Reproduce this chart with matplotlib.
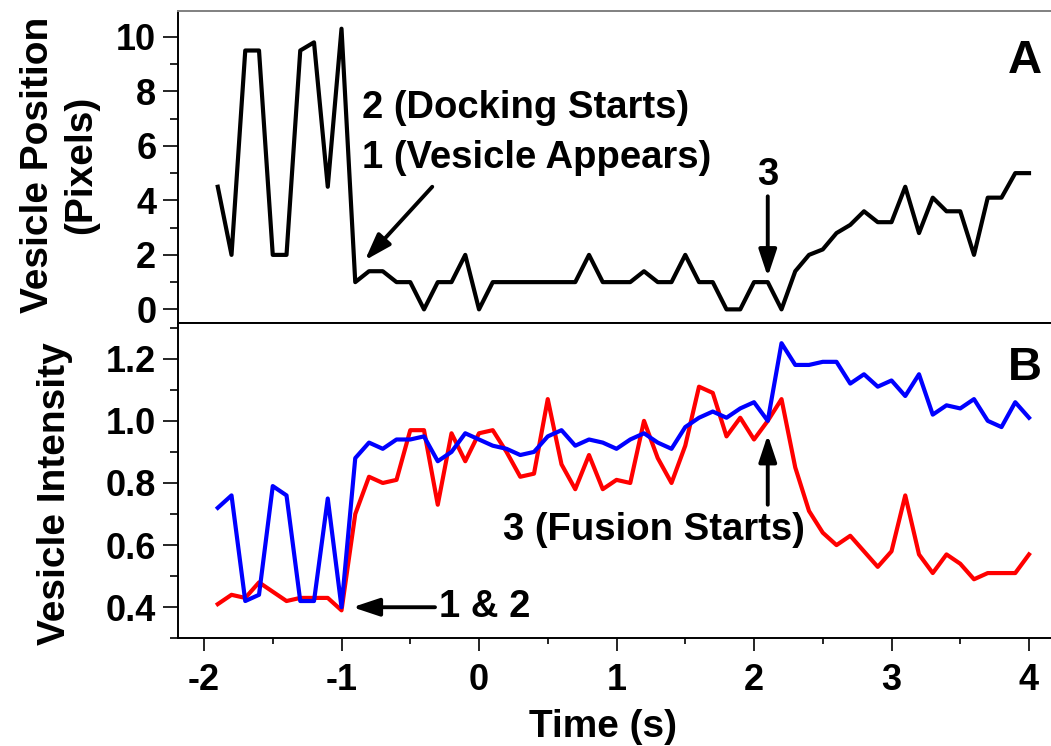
import numpy as np
import matplotlib
matplotlib.use("Agg")
import matplotlib.pyplot as plt
from matplotlib.ticker import MultipleLocator

plt.rcParams['font.family'] = ['Liberation Sans', 'DejaVu Sans']
plt.rcParams['font.weight'] = 'bold'
plt.rcParams['axes.unicode_minus'] = False

#%% data, time step 0.1 s
time = np.round(np.arange(-1.9, 4.0001, 0.1), 1)

position = [4.5, 2.0, 9.5, 9.5, 2.0, 2.0, 9.5, 9.8, 4.5, 10.3,
            1.0, 1.4, 1.4, 1.0, 1.0, 0.0, 1.0, 1.0, 2.0, 0.0,
            1.0, 1.0, 1.0, 1.0, 1.0, 1.0, 1.0, 2.0, 1.0, 1.0,
            1.0, 1.4, 1.0, 1.0, 2.0, 1.0, 1.0, 0.0, 0.0, 1.0,
            1.0, 0.0, 1.4, 2.0, 2.2, 2.8, 3.1, 3.6, 3.2, 3.2,
            4.5, 2.8, 4.1, 3.6, 3.6, 2.0, 4.1, 4.1, 5.0, 5.0]

intensity_red = [0.41, 0.44, 0.43, 0.48, 0.45, 0.42, 0.43, 0.43, 0.43, 0.39,
                 0.70, 0.82, 0.80, 0.81, 0.97, 0.97, 0.73, 0.96, 0.87, 0.96,
                 0.97, 0.90, 0.82, 0.83, 1.07, 0.86, 0.78, 0.89, 0.78, 0.81,
                 0.80, 1.00, 0.88, 0.80, 0.92, 1.11, 1.09, 0.95, 1.01, 0.94,
                 1.00, 1.07, 0.85, 0.71, 0.64, 0.60, 0.63, 0.58, 0.53, 0.58,
                 0.76, 0.57, 0.51, 0.57, 0.54, 0.49, 0.51, 0.51, 0.51, 0.57]

intensity_blue = [0.72, 0.76, 0.42, 0.44, 0.79, 0.76, 0.42, 0.42, 0.75, 0.40,
                  0.88, 0.93, 0.91, 0.94, 0.94, 0.95, 0.87, 0.90, 0.96, 0.94,
                  0.92, 0.91, 0.89, 0.90, 0.95, 0.97, 0.92, 0.94, 0.93, 0.91,
                  0.94, 0.96, 0.93, 0.91, 0.98, 1.01, 1.03, 1.01, 1.04, 1.06,
                  1.00, 1.25, 1.18, 1.18, 1.19, 1.19, 1.12, 1.15, 1.11, 1.13,
                  1.08, 1.15, 1.02, 1.05, 1.04, 1.07, 1.00, 0.98, 1.06, 1.01]

#%% figure and axes (pixel based layout)
W, H = 1051, 746
fig = plt.figure(figsize=(W / 100, H / 100), dpi=100)
left, right = 178.3 / W, 1056.5 / W
axA = fig.add_axes([left, 1 - 323 / H, right - left, (323 - 11) / H])
axB = fig.add_axes([left, 1 - 638.3 / H, right - left, (638.3 - 323) / H])

for ax in (axA, axB):
    ax.set_xlim(-2.187, 4.2)
    for s in ax.spines.values():
        s.set_linewidth(1.4)
    ax.tick_params(width=1.2, labelsize=26, direction='out')

axA.spines['top'].set_color('0.5')
axA.spines['right'].set_visible(False)
axB.spines['right'].set_visible(False)

arrow = dict(arrowstyle='-|>,head_length=0.9,head_width=0.3', color='black',
             lw=2.8, mutation_scale=18, shrinkA=0, shrinkB=0)
annot_size = 27.5

#%% panel A
axA.plot(time, position, color='black', lw=3.0)
axA.set_ylim(-0.5, 10.95)
axA.yaxis.set_major_locator(MultipleLocator(2))
axA.yaxis.set_minor_locator(MultipleLocator(1))
axA.xaxis.set_major_locator(MultipleLocator(0.5))
axA.tick_params(axis='x', length=9.5, labelbottom=False)
axA.tick_params(axis='y', which='major', length=10.8, pad=5)
axA.tick_params(axis='y', which='minor', length=5.8, width=1.2)
for lab in axA.get_yticklabels():
    lab.set_fontweight('bold')

axA.text(-0.85, 7.39, '2 (Docking Starts)', fontsize=annot_size, fontweight='bold',
         ha='left', va='center')
axA.text(-0.85, 5.55, '1 (Vesicle Appears)', fontsize=annot_size, fontweight='bold',
         ha='left', va='center')
axA.annotate('', xy=(-0.83, 1.8), xytext=(-0.34, 4.5), arrowprops=arrow)
axA.text(2.1, 4.93, '3', fontsize=annot_size, fontweight='bold', ha='center', va='center')
axA.annotate('', xy=(2.1, 1.2), xytext=(2.1, 4.15), arrowprops=arrow)
axA.text(3.97, 9.1, 'A', fontsize=34, fontweight='bold', ha='center', va='center')

#%% panel B
axB.plot(time, intensity_red, color='red', lw=3.0)
axB.plot(time, intensity_blue, color='blue', lw=3.0)
axB.set_ylim(0.3, 1.315)
axB.yaxis.set_major_locator(MultipleLocator(0.2))
axB.yaxis.set_minor_locator(MultipleLocator(0.1))
axB.xaxis.set_major_locator(MultipleLocator(1))
axB.xaxis.set_minor_locator(MultipleLocator(0.5))
axB.yaxis.set_major_formatter(matplotlib.ticker.FormatStrFormatter('%.1f'))
axB.tick_params(axis='y', which='major', length=10.8, pad=5)
axB.tick_params(axis='y', which='minor', length=5.8, width=1.2)
axB.tick_params(axis='x', which='major', length=9.5, pad=8)
axB.tick_params(axis='x', which='minor', length=4.5, width=1.2)
for lab in axB.get_yticklabels() + axB.get_xticklabels():
    lab.set_fontweight('bold')

axB.text(1.27, 0.65, '3 (Fusion Starts)', fontsize=annot_size, fontweight='bold',
         ha='center', va='center')
axB.annotate('', xy=(2.1, 0.955), xytext=(2.1, 0.73), arrowprops=arrow)
axB.text(-0.29, 0.4, '1 & 2', fontsize=annot_size, fontweight='bold',
         ha='left', va='center')
axB.annotate('', xy=(-0.92, 0.4), xytext=(-0.32, 0.4), arrowprops=arrow)
axB.text(3.97, 1.17, 'B', fontsize=34, fontweight='bold', ha='center', va='center')

#%% axis labels
fig.text(60 / W, 1 - 165 / H, 'Vesicle Position\n(Pixels)', rotation=90,
         fontsize=28, fontweight='bold', ha='center', va='center',
         multialignment='center', linespacing=1.25)
fig.text(55 / W, 1 - 494 / H, 'Vesicle Intensity', rotation=90,
         fontsize=28, fontweight='bold', ha='center', va='center')
fig.text(603 / W, 1 - 727 / H, 'Time (s)', fontsize=28, fontweight='bold',
         ha='center', va='center')

fig.savefig('out.png', dpi=100)
